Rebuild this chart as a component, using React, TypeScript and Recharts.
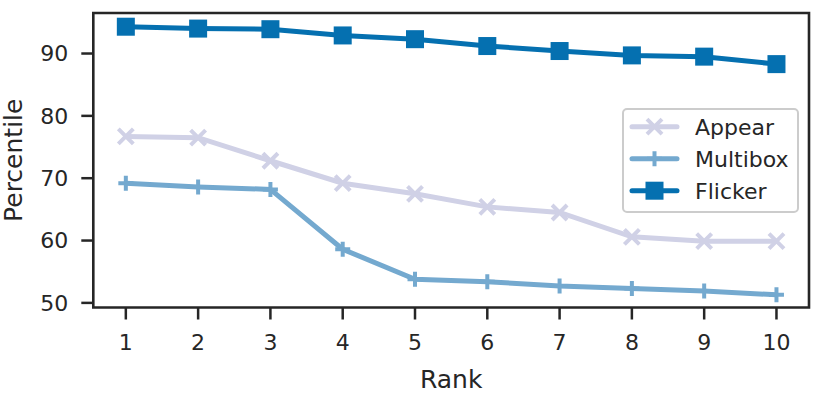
import React from 'react';
import { LineChart, Line, XAxis, YAxis, Legend, ReferenceArea } from 'recharts';

const ranks = [1, 2, 3, 4, 5, 6, 7, 8, 9, 10];
const appear = [76.7, 76.5, 72.8, 69.2, 67.5, 65.4, 64.5, 60.6, 59.9, 59.9];
const multibox = [69.2, 68.6, 68.2, 58.6, 53.8, 53.4, 52.7, 52.3, 51.9, 51.3];
const flicker = [94.3, 94.0, 93.9, 92.9, 92.3, 91.2, 90.4, 89.7, 89.5, 88.3];
const yTicks = [50, 60, 70, 80, 90];
const seriesNames = ['Appear', 'Multibox', 'Flicker'];

const data = ranks.map((r, i) => ({ rank: r, Appear: appear[i], Multibox: multibox[i], Flicker: flicker[i] }));

const C_APPEAR = '#d0d1e6';
const C_MULTI = '#74a9cf';
const C_FLICK = '#0570b0';
const INK = '#262626';
const FONT = '"DejaVu Sans", sans-serif';
const LW = 5;

const X_DOMAIN: [number, number] = [0.55, 10.45];
const Y_DOMAIN: [number, number] = [49.26, 96.5];

const XMark = ({ cx, cy, color, s = 7.5 }: any) => (
  <path d={`M${cx - s},${cy - s}L${cx + s},${cy + s}M${cx - s},${cy + s}L${cx + s},${cy - s}`} stroke={color} strokeWidth={4} fill="none" />
);
const PlusMark = ({ cx, cy, color, s = 7.5 }: any) => (
  <path d={`M${cx - s},${cy}L${cx + s},${cy}M${cx},${cy - s}L${cx},${cy + s}`} stroke={color} strokeWidth={4} fill="none" />
);
const SquareMark = ({ cx, cy, color, s = 9 }: any) => (
  <rect x={cx - s} y={cy - s} width={2 * s} height={2 * s} fill={color} />
);

const renderX = (p: any) => <XMark key={p.key ?? p.index} cx={p.cx} cy={p.cy} color={C_APPEAR} />;
const renderPlus = (p: any) => <PlusMark key={p.key ?? p.index} cx={p.cx} cy={p.cy} color={C_MULTI} />;
const renderSq = (p: any) => <SquareMark key={p.key ?? p.index} cx={p.cx} cy={p.cy} color={C_FLICK} />;

const LegendBox = () => {
  const rows = [
    { name: seriesNames[0], color: C_APPEAR, mark: (x: number, y: number) => <XMark cx={x} cy={y} color={C_APPEAR} /> },
    { name: seriesNames[1], color: C_MULTI, mark: (x: number, y: number) => <PlusMark cx={x} cy={y} color={C_MULTI} /> },
    { name: seriesNames[2], color: C_FLICK, mark: (x: number, y: number) => <SquareMark cx={x} cy={y} color={C_FLICK} /> },
  ];
  return (
    <svg width={178} height={106} style={{ display: 'block' }}>
      <rect x={1} y={1} width={175} height={103} rx={4} ry={4} fill="#ffffff" fillOpacity={0.8} stroke="#cccccc" strokeWidth={2} />
      {rows.map((r, i) => {
        const cy = 18.7 + i * 32;
        return (
          <g key={r.name}>
            <line x1={10} x2={55} y1={cy} y2={cy} stroke={r.color} strokeWidth={LW} strokeLinecap="round" />
            {r.mark(32.5, cy)}
            <text x={73} y={cy + 8} fontFamily={FONT} fontSize={22} fill={INK}>{r.name}</text>
          </g>
        );
      })}
    </svg>
  );
};

export default function App() {
  return (
    <div style={{ position: 'absolute', left: 0, top: 0, width: 822, height: 395, background: '#fff' }}>
      <LineChart width={822} height={395} data={data} margin={{ top: 13, right: 13, bottom: 0, left: 0 }}>
        <XAxis
          dataKey="rank"
          type="number"
          domain={X_DOMAIN}
          ticks={ranks}
          interval={0}
          allowDataOverflow
          height={87.5}
          axisLine={false}
          tickSize={12}
          tickMargin={15}
          tickLine={{ stroke: INK, strokeWidth: 2.5 }}
          tick={{ fill: INK, fontSize: 22, fontFamily: FONT }}
          label={{ value: 'Rank', position: 'insideBottom', offset: 7, fill: INK, fontSize: 25, fontFamily: FONT }}
        />
        <YAxis
          type="number"
          domain={Y_DOMAIN}
          ticks={yTicks}
          interval={0}
          allowDataOverflow
          width={93.3}
          axisLine={false}
          tickSize={12}
          tickMargin={13}
          tickLine={{ stroke: INK, strokeWidth: 2.5 }}
          tick={{ fill: INK, fontSize: 22, fontFamily: FONT }}
          label={{ value: 'Percentile', angle: -90, position: 'insideLeft', offset: 13.5, fill: INK, fontSize: 25, fontFamily: FONT, style: { textAnchor: 'middle' } }}
        />
        <ReferenceArea x1={X_DOMAIN[0]} x2={X_DOMAIN[1]} y1={Y_DOMAIN[0]} y2={Y_DOMAIN[1]} fill="none" fillOpacity={0} stroke={INK} strokeWidth={2.6} ifOverflow="visible" />
        <Line dataKey="Appear" stroke={C_APPEAR} strokeWidth={LW} dot={renderX} activeDot={false} isAnimationActive={false} />
        <Line dataKey="Multibox" stroke={C_MULTI} strokeWidth={LW} dot={renderPlus} activeDot={false} isAnimationActive={false} />
        <Line dataKey="Flicker" stroke={C_FLICK} strokeWidth={LW} dot={renderSq} activeDot={false} isAnimationActive={false} />
        <Legend
          layout="horizontal"
          verticalAlign="middle"
          align="center"
          content={() => <LegendBox />}
          wrapperStyle={{ left: 622, top: 108, width: 178, height: 106 }}
        />
      </LineChart>
    </div>
  );
}
